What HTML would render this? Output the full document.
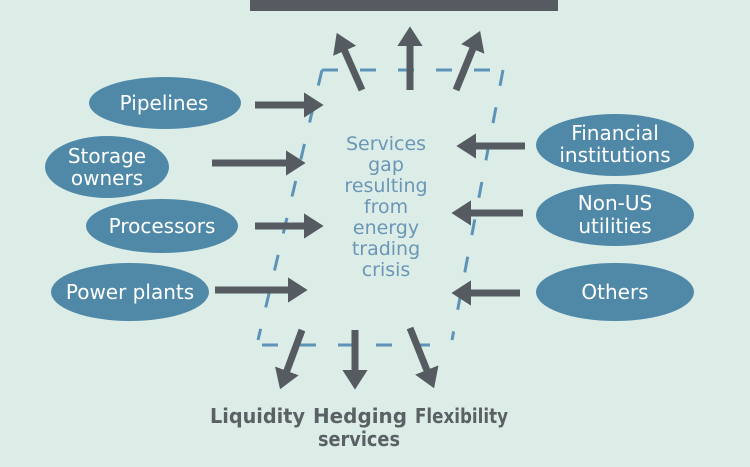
<!DOCTYPE html>
<html><head><style>
body{margin:0;width:750px;height:463px;background:#dcede8;overflow:hidden;font-family:"DejaVu Sans","Liberation Sans",sans-serif}
</style></head><body>
<svg width="750" height="463" xmlns="http://www.w3.org/2000/svg">
<defs><marker id="a" markerWidth="4" markerHeight="4" refX="2" refY="2" orient="auto" markerUnits="strokeWidth"><path d="M0,0.2 L2.8,2 L0,3.8 z" fill="#555b60"/></marker></defs>
<rect x="250" y="0" width="308" height="11" fill="#555b60"/>
<g fill="none" stroke="#5e93b8" stroke-width="3" stroke-dasharray="16,22">
<path d="M322,70 L503,70"/>
<path d="M322,70 L258,340"/>
<path d="M503,70 L452,340"/>
<path d="M262,345 L452,345"/>
</g>
<g stroke="#555b60" stroke-width="7" marker-end="url(#a)">
<line x1="255" y1="105" x2="318" y2="105"/>
<line x1="212" y1="163" x2="300" y2="163"/>
<line x1="255" y1="226" x2="318" y2="226"/>
<line x1="215" y1="290" x2="302" y2="290"/>
<line x1="525" y1="146" x2="462" y2="146"/>
<line x1="523" y1="213" x2="457" y2="213"/>
<line x1="520" y1="293" x2="457" y2="293"/>
<line x1="362" y1="90" x2="339" y2="38"/>
<line x1="410" y1="90" x2="410" y2="32"/>
<line x1="456" y1="90" x2="478" y2="36"/>
<line x1="302" y1="330" x2="282" y2="384"/>
<line x1="355" y1="330" x2="355" y2="384"/>
<line x1="410" y1="328" x2="432" y2="383"/>
</g>
<g fill="#5089a8">
<ellipse cx="165" cy="103" rx="76" ry="26"/>
<ellipse cx="107" cy="167" rx="62" ry="31"/>
<ellipse cx="162" cy="226" rx="76" ry="27"/>
<ellipse cx="130" cy="292" rx="79" ry="29"/>
<ellipse cx="615" cy="145" rx="79" ry="31"/>
<ellipse cx="615" cy="215" rx="79" ry="31"/>
<ellipse cx="615" cy="292" rx="79" ry="29"/>
</g>
<g fill="#fff" font-size="20" text-anchor="middle">
<text x="164" y="110">Pipelines</text>
<text x="107" y="163">Storage</text><text x="107" y="185">owners</text>
<text x="162" y="233">Processors</text>
<text x="130" y="299">Power plants</text>
<text x="615" y="140">Financial</text><text x="615" y="162">institutions</text>
<text x="615" y="210">Non-US</text><text x="615" y="233">utilities</text>
<text x="615" y="299">Others</text>
</g>
<g fill="#6b96b6" font-size="19" text-anchor="middle">
<text x="386" y="150">Services</text><text x="386" y="171">gap</text><text x="386" y="192">resulting</text><text x="386" y="213">from</text><text x="386" y="234">energy</text><text x="386" y="255">trading</text><text x="386" y="276">crisis</text>
</g>
<g fill="#5a6064" font-size="20" font-weight="bold">
<text x="210" y="423" textLength="95" lengthAdjust="spacingAndGlyphs">Liquidity</text>
<text x="313" y="423" textLength="94" lengthAdjust="spacingAndGlyphs">Hedging</text>
<text x="415" y="423" textLength="93" lengthAdjust="spacingAndGlyphs">Flexibility</text>
<text x="318" y="446" textLength="82" lengthAdjust="spacingAndGlyphs">services</text>
</g>
</svg>
</body></html>
